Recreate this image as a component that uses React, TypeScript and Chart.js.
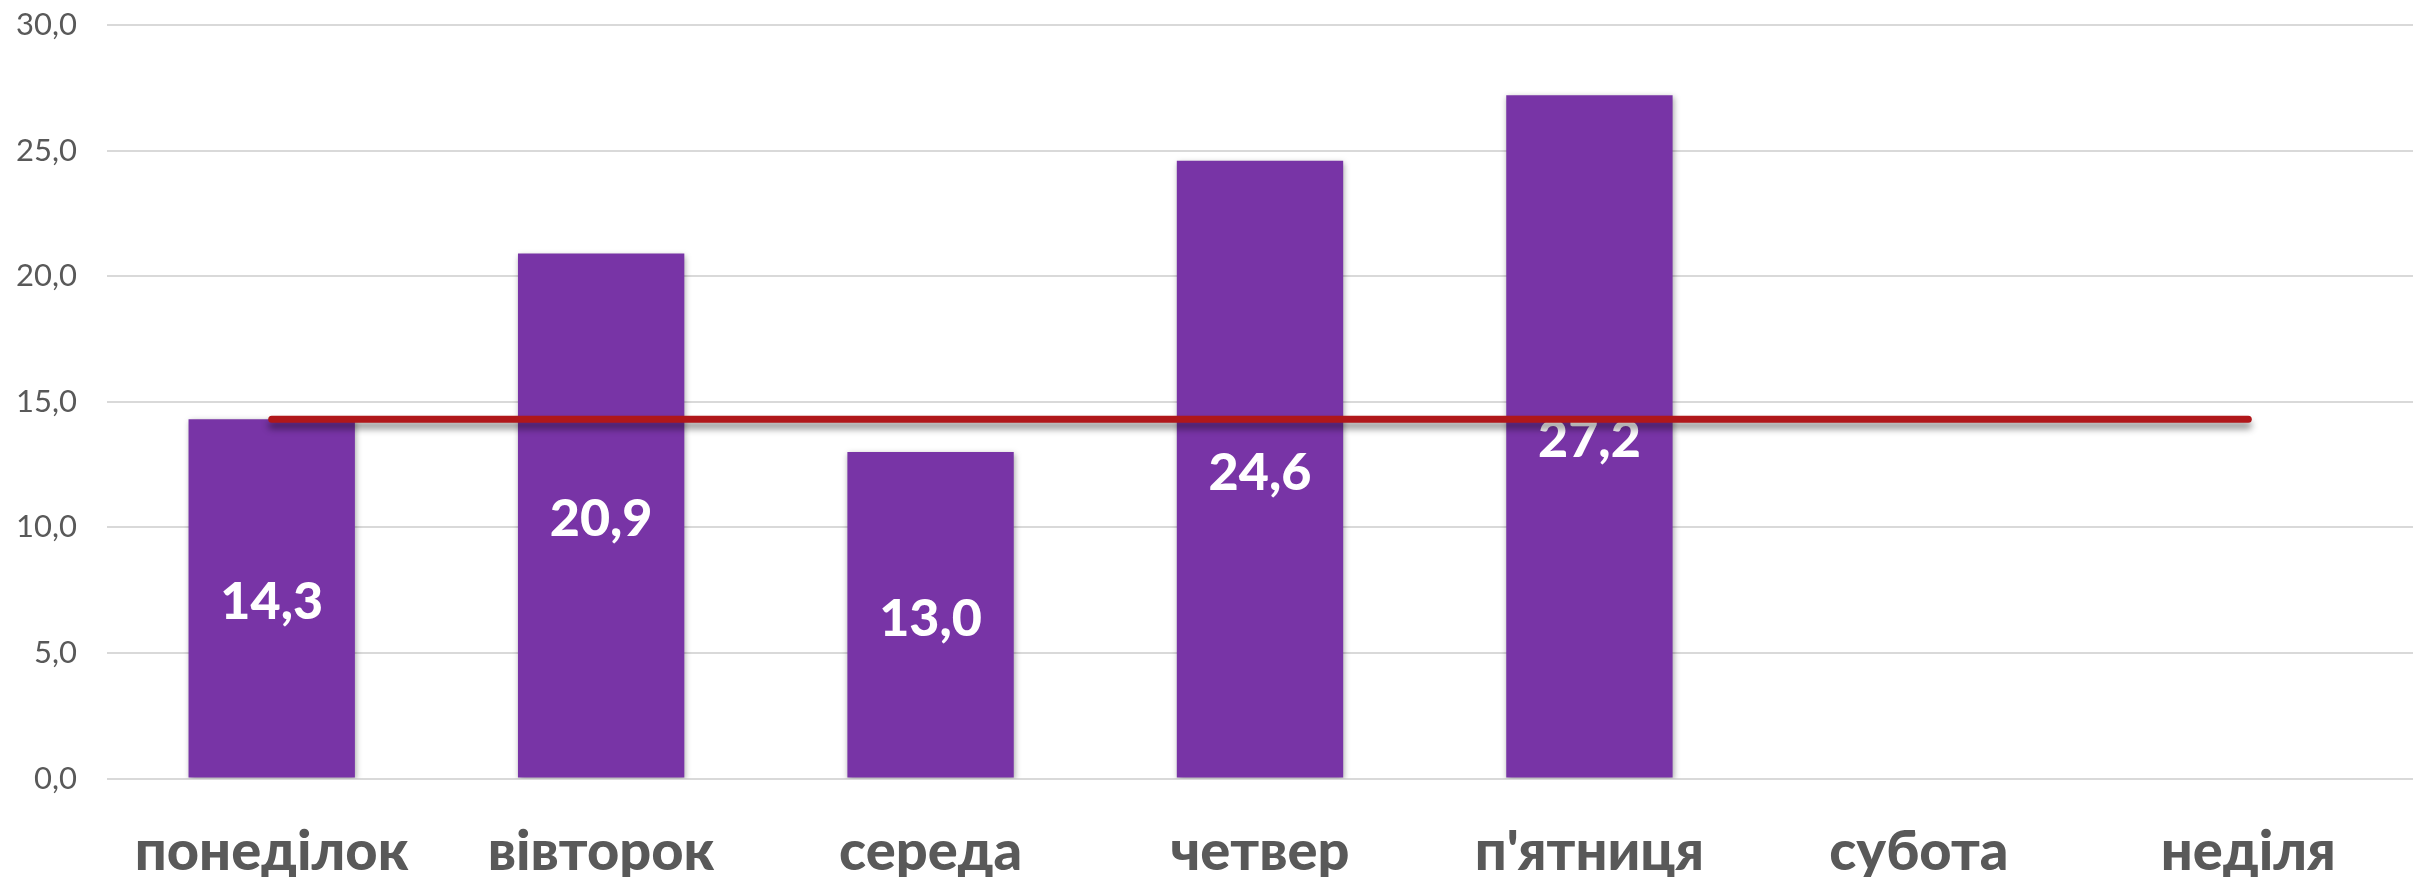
import React, { useEffect, useRef } from "react";
import { Chart, registerables } from "chart.js";

Chart.register(...registerables);

const categories = ["понеділок", "вівторок", "середа", "четвер", "п'ятниця", "субота", "неділя"];
const barValues: (number | null)[] = [14.3, 20.9, 13.0, 24.6, 27.2, null, null];
const lineValues = [14.3, 14.3, 14.3, 14.3, 14.3, 14.3, 14.3];
const yMin = 0;
const yMax = 30;
const yStep = 5;

const BAR_COLOR = "#7834A6";
const LINE_COLOR = "#B0171A";

const fmt = (v: number) => v.toFixed(1).replace(".", ",");

const shadowPlugin = {
  id: "shadowPlugin",
  beforeDatasetDraw(chart: any, args: any) {
    const ctx = chart.ctx;
    ctx.save();
    if (args.index === 0) {
      ctx.shadowColor = "rgba(0,0,0,0.35)";
      ctx.shadowBlur = 6;
      ctx.shadowOffsetX = 1;
      ctx.shadowOffsetY = 2;
    } else {
      ctx.shadowColor = "rgba(0,0,0,0.45)";
      ctx.shadowBlur = 7;
      ctx.shadowOffsetX = 0;
      ctx.shadowOffsetY = 6;
    }
  },
  afterDatasetDraw(chart: any, args: any) {
    const ctx = chart.ctx;
    ctx.restore();
    if (args.index === 0) {
      const meta = chart.getDatasetMeta(0);
      ctx.save();
      ctx.fillStyle = "#FFFFFF";
      ctx.font = "900 52px Lato";
      ctx.textAlign = "center";
      ctx.textBaseline = "middle";
      meta.data.forEach((el: any, i: number) => {
        const v = barValues[i];
        if (v === null || v === undefined) return;
        const y = (el.y + el.base) / 2 + 4;
        ctx.fillText(fmt(v), el.x, y);
      });
      ctx.restore();
    }
  },
};

export default function App() {
  const ref = useRef<HTMLCanvasElement | null>(null);
  useEffect(() => {
    if (!ref.current) return;
    const chart = new Chart(ref.current, {
      type: "bar",
      data: {
        labels: categories,
        datasets: [
          {
            type: "bar",
            data: barValues,
            backgroundColor: BAR_COLOR,
            borderWidth: 0,
            barPercentage: 0.505,
            categoryPercentage: 1,
            order: 1,
          } as any,
          {
            type: "line",
            data: lineValues,
            borderColor: LINE_COLOR,
            borderWidth: 7,
            borderCapStyle: "round",
            pointRadius: 0,
            fill: false,
            tension: 0,
            order: 0,
          } as any,
        ],
      },
      options: {
        animation: false,
        responsive: false,
        maintainAspectRatio: false,
        layout: { padding: { top: 25, right: 5, left: 0, bottom: 0 } },
        plugins: {
          legend: { display: false },
          tooltip: { enabled: false },
        },
        scales: {
          x: {
            grid: { display: false, drawTicks: false },
            border: { display: false },
            ticks: {
              color: "#595959",
              font: { family: "Lato", size: 56, weight: "900" },
              padding: 40,
              maxRotation: 0,
              autoSkip: false,
            },
            afterFit: (scale: any) => {
              scale.height = 98.5;
            },
          },
          y: {
            min: yMin,
            max: yMax,
            grid: { color: "#D9D9D9", lineWidth: 2, drawTicks: false },
            border: { display: false },
            ticks: {
              stepSize: yStep,
              color: "#595959",
              font: { family: "Lato", size: 31 },
              padding: 30,
              callback: (v: any) => fmt(Number(v)),
            },
            afterFit: (scale: any) => {
              scale.width = 107;
              scale.paddingTop = 10;
              scale.paddingBottom = 10;
            },
          },
        },
      },
      plugins: [shadowPlugin],
    });
    return () => chart.destroy();
  }, []);
  return (
    <div style={{ position: "fixed", left: 0, top: 0, width: 2418, height: 877, background: "#FFFFFF" }}>
      <canvas ref={ref} width={2418} height={877} style={{ display: "block" }} />
    </div>
  );
}
